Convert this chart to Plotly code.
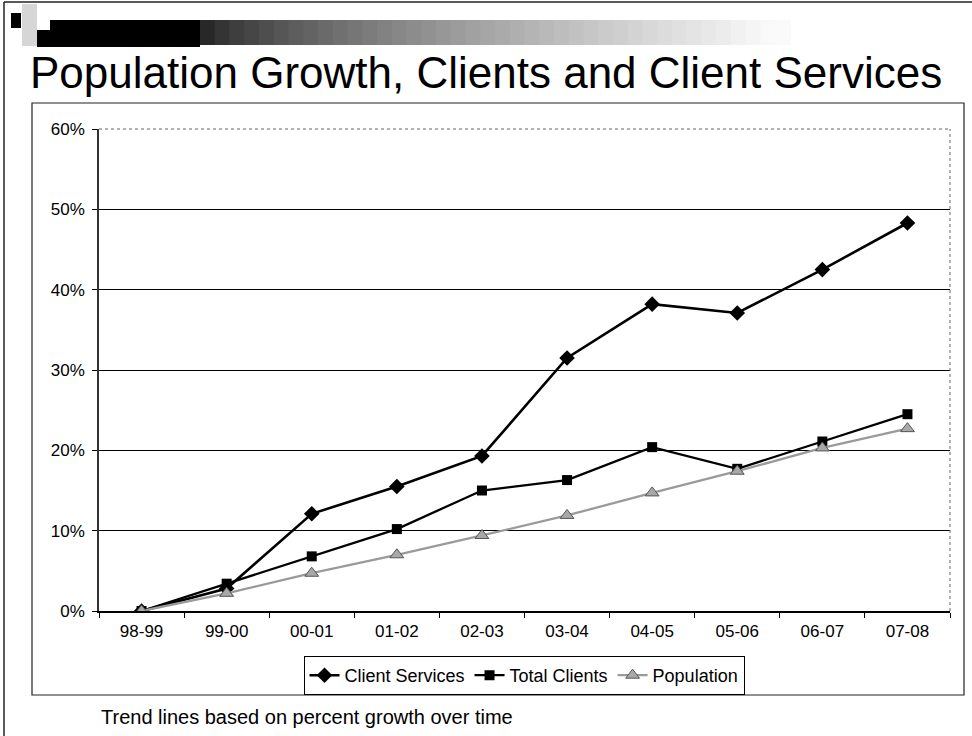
import plotly.graph_objects as go

# ---- data -------------------------------------------------------------
years = ["98-99", "99-00", "00-01", "01-02", "02-03",
         "03-04", "04-05", "05-06", "06-07", "07-08"]
client_services = [0.0, 0.028, 0.121, 0.155, 0.193, 0.315, 0.382, 0.371, 0.425, 0.483]
total_clients = [0.0, 0.034, 0.068, 0.102, 0.150, 0.163, 0.204, 0.177, 0.211, 0.245]
population = [0.0, 0.022, 0.047, 0.070, 0.094, 0.119, 0.147, 0.174, 0.203, 0.227]
y_ticks = [0.0, 0.1, 0.2, 0.3, 0.4, 0.5, 0.6]

W, H = 972, 736
L, R, T, B = 99, 950, 129, 611   # plot area in page pixels


def px(x):
    return (x - L) / (R - L)


def py(y):
    return (B - y) / (B - T)


FONT = "Liberation Sans, Arial, sans-serif"

fig = go.Figure()

fig.add_trace(go.Scatter(
    x=years, y=client_services, name="Client Services", mode="lines+markers",
    line=dict(color="#000000", width=2.6),
    marker=dict(symbol="diamond", size=12, color="#000000"),
))
fig.add_trace(go.Scatter(
    x=years, y=total_clients, name="Total Clients", mode="lines+markers",
    line=dict(color="#000000", width=2.3),
    marker=dict(symbol="square", size=10, color="#000000"),
))
fig.add_trace(go.Scatter(
    x=years, y=population, name="Population", mode="lines+markers",
    line=dict(color="#9a9a9a", width=2.3),
    marker=dict(symbol="triangle-up", size=12, color="#a8a8a8",
                line=dict(color="#555555", width=1)),
))

shapes = []

# slide frame
shapes.append(dict(type="line", xref="paper", yref="paper",
                   x0=px(4), x1=px(972), y0=py(2), y1=py(2),
                   line=dict(color="#222222", width=1.5)))
shapes.append(dict(type="line", xref="paper", yref="paper",
                   x0=px(4), x1=px(4), y0=py(2), y1=py(736),
                   line=dict(color="#222222", width=1.5)))

# header decoration: small square, dithered block and fading bar
shapes.append(dict(type="rect", xref="paper", yref="paper",
                   x0=px(11), x1=px(21), y0=py(28), y1=py(13),
                   fillcolor="#000000", line=dict(width=0)))
shapes.append(dict(type="rect", xref="paper", yref="paper",
                   x0=px(22), x1=px(37), y0=py(46), y1=py(4),
                   fillcolor="#d6d6d6", line=dict(width=0)))
shapes.append(dict(type="rect", xref="paper", yref="paper",
                   x0=px(37), x1=px(200), y0=py(47), y1=py(30),
                   fillcolor="#000000", line=dict(width=0)))
shapes.append(dict(type="rect", xref="paper", yref="paper",
                   x0=px(50), x1=px(200), y0=py(30), y1=py(20),
                   fillcolor="#000000", line=dict(width=0)))
n_steps = 40
x_start, x_end = 200, 790
for i in range(n_steps):
    xa = x_start + (x_end - x_start) * i / n_steps
    xb = x_start + (x_end - x_start) * (i + 1) / n_steps
    t = (i + 0.5) / n_steps
    g = min(int(30 + 225 * (t ** 0.7)), 250)
    shapes.append(dict(type="rect", xref="paper", yref="paper",
                       x0=px(xa), x1=px(xb) + 0.001, y0=py(45), y1=py(20),
                       fillcolor=f"rgb({g},{g},{g})", line=dict(width=0)))

# chart box
shapes.append(dict(type="rect", xref="paper", yref="paper",
                   x0=px(32), x1=px(964), y0=py(695), y1=py(103),
                   line=dict(color="#222222", width=1.2)))

# plot-area border: dotted top and right edges
shapes.append(dict(type="line", xref="paper", yref="paper", layer="above",
                   x0=0, x1=1, y0=1, y1=1,
                   line=dict(color="#ffffff", width=2)))
shapes.append(dict(type="line", xref="paper", yref="paper", layer="above",
                   x0=0, x1=1, y0=1, y1=1,
                   line=dict(color="#666666", width=1, dash="dot")))
shapes.append(dict(type="line", xref="paper", yref="paper", layer="above",
                   x0=1, x1=1, y0=0, y1=1,
                   line=dict(color="#666666", width=1, dash="dot")))

annotations = [
    dict(text="Population Growth, Clients and Client Services",
         xref="paper", yref="paper", x=px(486), y=py(73),
         xanchor="center", yanchor="middle", showarrow=False,
         font=dict(family=FONT, size=44, color="#000000")),
    dict(text="Trend lines based on percent growth over time",
         xref="paper", yref="paper", x=px(99), y=py(717),
         xanchor="left", yanchor="middle", showarrow=False,
         font=dict(family=FONT, size=20, color="#000000")),
]

fig.update_layout(
    width=W, height=H,
    margin=dict(l=L, r=W - R, t=T, b=H - B, pad=0),
    paper_bgcolor="#ffffff", plot_bgcolor="#ffffff",
    font=dict(family=FONT, size=17, color="#000000"),
    shapes=shapes, annotations=annotations,
    showlegend=True,
    legend=dict(
        orientation="h", x=px(524), y=py(656), xanchor="center", yanchor="top",
        bordercolor="#000000", borderwidth=1, bgcolor="#ffffff",
        font=dict(family=FONT, size=18, color="#000000"),
        itemwidth=30, tracegroupgap=0,
    ),
)

fig.update_xaxes(
    type="category", range=[-0.5, len(years) - 0.5],
    showgrid=False, showline=True, linecolor="#000000", linewidth=1.5,
    ticks="outside", tickson="boundaries", ticklen=5, tickcolor="#000000",
    tickfont=dict(family=FONT, size=17), zeroline=False,
    ticklabelstandoff=4,
)
fig.update_yaxes(
    range=[0, 0.6], tickvals=y_ticks, tickformat=".0%",
    showgrid=True, gridcolor="#000000", gridwidth=1,
    showline=True, linecolor="#333333", linewidth=1.5,
    ticks="outside", ticklen=5, tickcolor="#000000",
    tickfont=dict(family=FONT, size=17), zeroline=False,
    ticklabelstandoff=4,
)

fig.write_html("out.html")
